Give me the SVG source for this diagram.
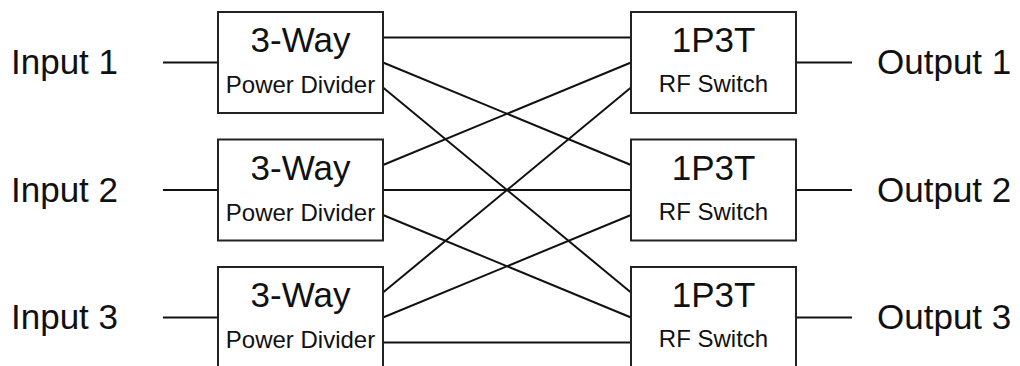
<svg xmlns="http://www.w3.org/2000/svg" width="1020" height="366" viewBox="0 0 1020 366">
<style>
.box{fill:#fff;stroke:#222;stroke-width:2}
.ln{stroke:#111;stroke-width:2;fill:none}
text{font-family:"Liberation Sans",Arial,sans-serif;fill:#111}
.big{font-size:35px;text-anchor:middle}
.small{font-size:24px;text-anchor:middle}
.lbl{font-size:35px}
</style>
<rect width="1020" height="366" fill="#fff"/>
<g id="connectors">
<line class="ln" x1="163" y1="62.5" x2="218" y2="62.5"/>
<line class="ln" x1="163" y1="190" x2="218" y2="190"/>
<line class="ln" x1="163" y1="317.5" x2="218" y2="317.5"/>
<line class="ln" x1="796" y1="62.5" x2="852" y2="62.5"/>
<line class="ln" x1="796" y1="190" x2="852" y2="190"/>
<line class="ln" x1="796" y1="317.5" x2="852" y2="317.5"/>
<line class="ln" x1="383" y1="37.5" x2="631" y2="37.5"/>
<line class="ln" x1="383" y1="62.5" x2="631" y2="165"/>
<line class="ln" x1="383" y1="87.5" x2="631" y2="292.5"/>
<line class="ln" x1="383" y1="165" x2="631" y2="62.5"/>
<line class="ln" x1="383" y1="190" x2="631" y2="190"/>
<line class="ln" x1="383" y1="215" x2="631" y2="317.5"/>
<line class="ln" x1="383" y1="292.5" x2="631" y2="87.5"/>
<line class="ln" x1="383" y1="317.5" x2="631" y2="215"/>
<line class="ln" x1="383" y1="342.5" x2="631" y2="342.5"/>
</g>
<g id="input1"><text class="lbl" x="11" y="74">Input 1</text></g>
<g id="input2"><text class="lbl" x="11" y="201.5">Input 2</text></g>
<g id="input3"><text class="lbl" x="11" y="329">Input 3</text></g>
<g id="divider1"><rect class="box" x="218" y="12" width="165" height="101"/><text class="big" x="300.5" y="52">3-Way</text><text class="small" x="300.5" y="93">Power Divider</text></g>
<g id="divider2"><rect class="box" x="218" y="139.5" width="165" height="101"/><text class="big" x="300.5" y="179.5">3-Way</text><text class="small" x="300.5" y="220.5">Power Divider</text></g>
<g id="divider3"><rect class="box" x="218" y="267" width="165" height="101"/><text class="big" x="300.5" y="307">3-Way</text><text class="small" x="300.5" y="348">Power Divider</text></g>
<g id="switch1"><rect class="box" x="631" y="12" width="165" height="101"/><text class="big" x="713.5" y="52">1P3T</text><text class="small" x="713.5" y="92">RF Switch</text></g>
<g id="switch2"><rect class="box" x="631" y="139.5" width="165" height="101"/><text class="big" x="713.5" y="179.5">1P3T</text><text class="small" x="713.5" y="219.5">RF Switch</text></g>
<g id="switch3"><rect class="box" x="631" y="267" width="165" height="101"/><text class="big" x="713.5" y="307">1P3T</text><text class="small" x="713.5" y="347">RF Switch</text></g>
<g id="output1"><text class="lbl" x="877" y="74">Output 1</text></g>
<g id="output2"><text class="lbl" x="877" y="201.5">Output 2</text></g>
<g id="output3"><text class="lbl" x="877" y="329">Output 3</text></g>
</svg>
